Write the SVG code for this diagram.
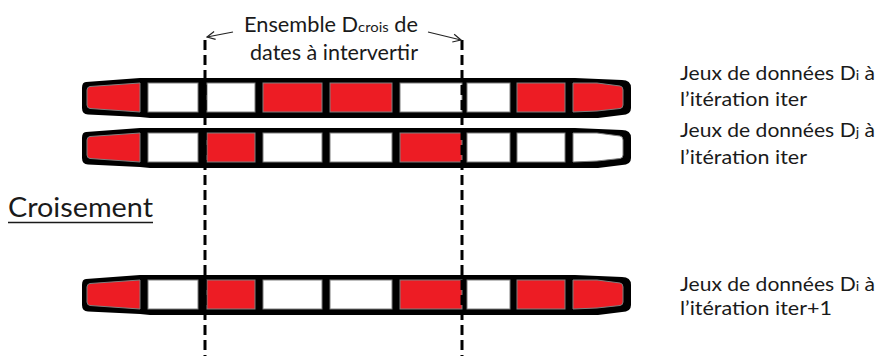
<svg xmlns="http://www.w3.org/2000/svg" xmlns:xlink="http://www.w3.org/1999/xlink" width="882" height="356" viewBox="0 0 882 356">
<style>
text{font-family:Lato,"Liberation Sans",sans-serif;fill:#1a1a1a}
.lab{font-size:19px}
.top{font-size:20.5px}
.sub{font-size:13px}
.r{fill:#ED1C24;stroke:#7f7f7f;stroke-width:1}
.w{fill:#fff;stroke:#7f7f7f;stroke-width:1}
.outer{fill:#000}
.dash{stroke:#000;stroke-width:3;stroke-dasharray:10,5;fill:none}
.arr{stroke:#222;stroke-width:1.2;fill:none}
</style>
<defs>
<marker id="ah" viewBox="0 0 10 10" refX="9" refY="5" markerWidth="10" markerHeight="10" markerUnits="userSpaceOnUse" orient="auto"><path d="M1,1 L9,5 L1,9" fill="none" stroke="#222" stroke-width="1.2"/></marker>
<path id="outer" d="M86,82 L140,78 L575,78 L622,80 Q631,80 631,88 L631,108 Q631,115 622,115 L598,118 L150,118 L140,117 L88,114.5 Q82,114 82,108 L82,88 Q82,82 86,82 Z"/>
<path id="capL" d="M90,86.5 L140,83 L140,112 L90,108.5 Q87,108 87,105 L87,90 Q87,87 90,86.5 Z"/>
<path id="capR" d="M573,83 L597,83 L620,86 Q623,86.5 623,90 L623,105 Q623,108 620,108.5 L597,111 L573,112 Z"/>
</defs>

<g id="bar1">
<use xlink:href="#outer" class="outer"/>
<use xlink:href="#capL" class="r"/>
<rect class="w" x="148" y="83" width="50" height="29"/>
<rect class="w" x="207" y="83" width="48" height="29"/>
<rect class="r" x="263" y="83" width="59" height="29"/>
<rect class="r" x="330" y="83" width="62" height="29"/>
<rect class="w" x="400" y="83" width="62" height="29"/>
<rect class="w" x="467" y="83" width="43" height="29"/>
<rect class="r" x="517" y="83" width="48" height="29"/>
<use xlink:href="#capR" class="r"/>
</g>

<g id="bar2" transform="translate(0,50)">
<use xlink:href="#outer" class="outer"/>
<use xlink:href="#capL" class="r"/>
<rect class="w" x="148" y="83" width="50" height="29"/>
<rect class="r" x="207" y="83" width="48" height="29"/>
<rect class="w" x="263" y="83" width="59" height="29"/>
<rect class="w" x="330" y="83" width="62" height="29"/>
<rect class="r" x="400" y="83" width="62" height="29"/>
<rect class="w" x="467" y="83" width="43" height="29"/>
<rect class="w" x="517" y="83" width="48" height="29"/>
<use xlink:href="#capR" class="w"/>
</g>

<g id="bar3" transform="translate(0,197)">
<use xlink:href="#outer" class="outer"/>
<use xlink:href="#capL" class="r"/>
<rect class="w" x="148" y="83" width="50" height="29"/>
<rect class="r" x="207" y="83" width="48" height="29"/>
<rect class="w" x="263" y="83" width="59" height="29"/>
<rect class="w" x="330" y="83" width="62" height="29"/>
<rect class="r" x="400" y="83" width="62" height="29"/>
<rect class="w" x="467" y="83" width="43" height="29"/>
<rect class="r" x="517" y="83" width="48" height="29"/>
<use xlink:href="#capR" class="r"/>
</g>

<g id="guides">
<line class="dash" x1="205" y1="40" x2="205" y2="356"/>
<line class="dash" x1="462" y1="40" x2="462" y2="356"/>
</g>

<g id="connectors">
<line class="arr" x1="233" y1="32" x2="207" y2="37" marker-end="url(#ah)"/>
<line class="arr" x1="428" y1="32" x2="461" y2="40" marker-end="url(#ah)"/>
</g>

<g id="label-crois">
<text class="top" x="244" y="32" textLength="174" lengthAdjust="spacingAndGlyphs">Ensemble D<tspan style="font-size:14px">crois</tspan> de</text>
<text class="top" x="250" y="60" textLength="168" lengthAdjust="spacingAndGlyphs">dates à intervertir</text>
</g>

<g id="label-bar1">
<text class="lab" x="680" y="80" textLength="195" lengthAdjust="spacingAndGlyphs">Jeux de données D<tspan class="sub">i</tspan> à</text>
<text class="lab" x="680" y="106" textLength="127" lengthAdjust="spacingAndGlyphs">l’itération iter</text>
</g>

<g id="label-bar2">
<text class="lab" x="680" y="137" textLength="195" lengthAdjust="spacingAndGlyphs">Jeux de données D<tspan class="sub">j</tspan> à</text>
<text class="lab" x="680" y="164" textLength="127" lengthAdjust="spacingAndGlyphs">l’itération iter</text>
</g>

<g id="label-bar3">
<text class="lab" x="680" y="291" textLength="195" lengthAdjust="spacingAndGlyphs">Jeux de données D<tspan class="sub">i</tspan> à</text>
<text class="lab" x="680" y="315" textLength="152" lengthAdjust="spacingAndGlyphs">l’itération iter+1</text>
</g>

<g id="croisement">
<text x="8" y="217" style="font-size:27px" textLength="145" lengthAdjust="spacingAndGlyphs">Croisement</text>
<line x1="8" y1="222.5" x2="153" y2="222.5" stroke="#1a1a1a" stroke-width="1.5"/>
</g>
</svg>
